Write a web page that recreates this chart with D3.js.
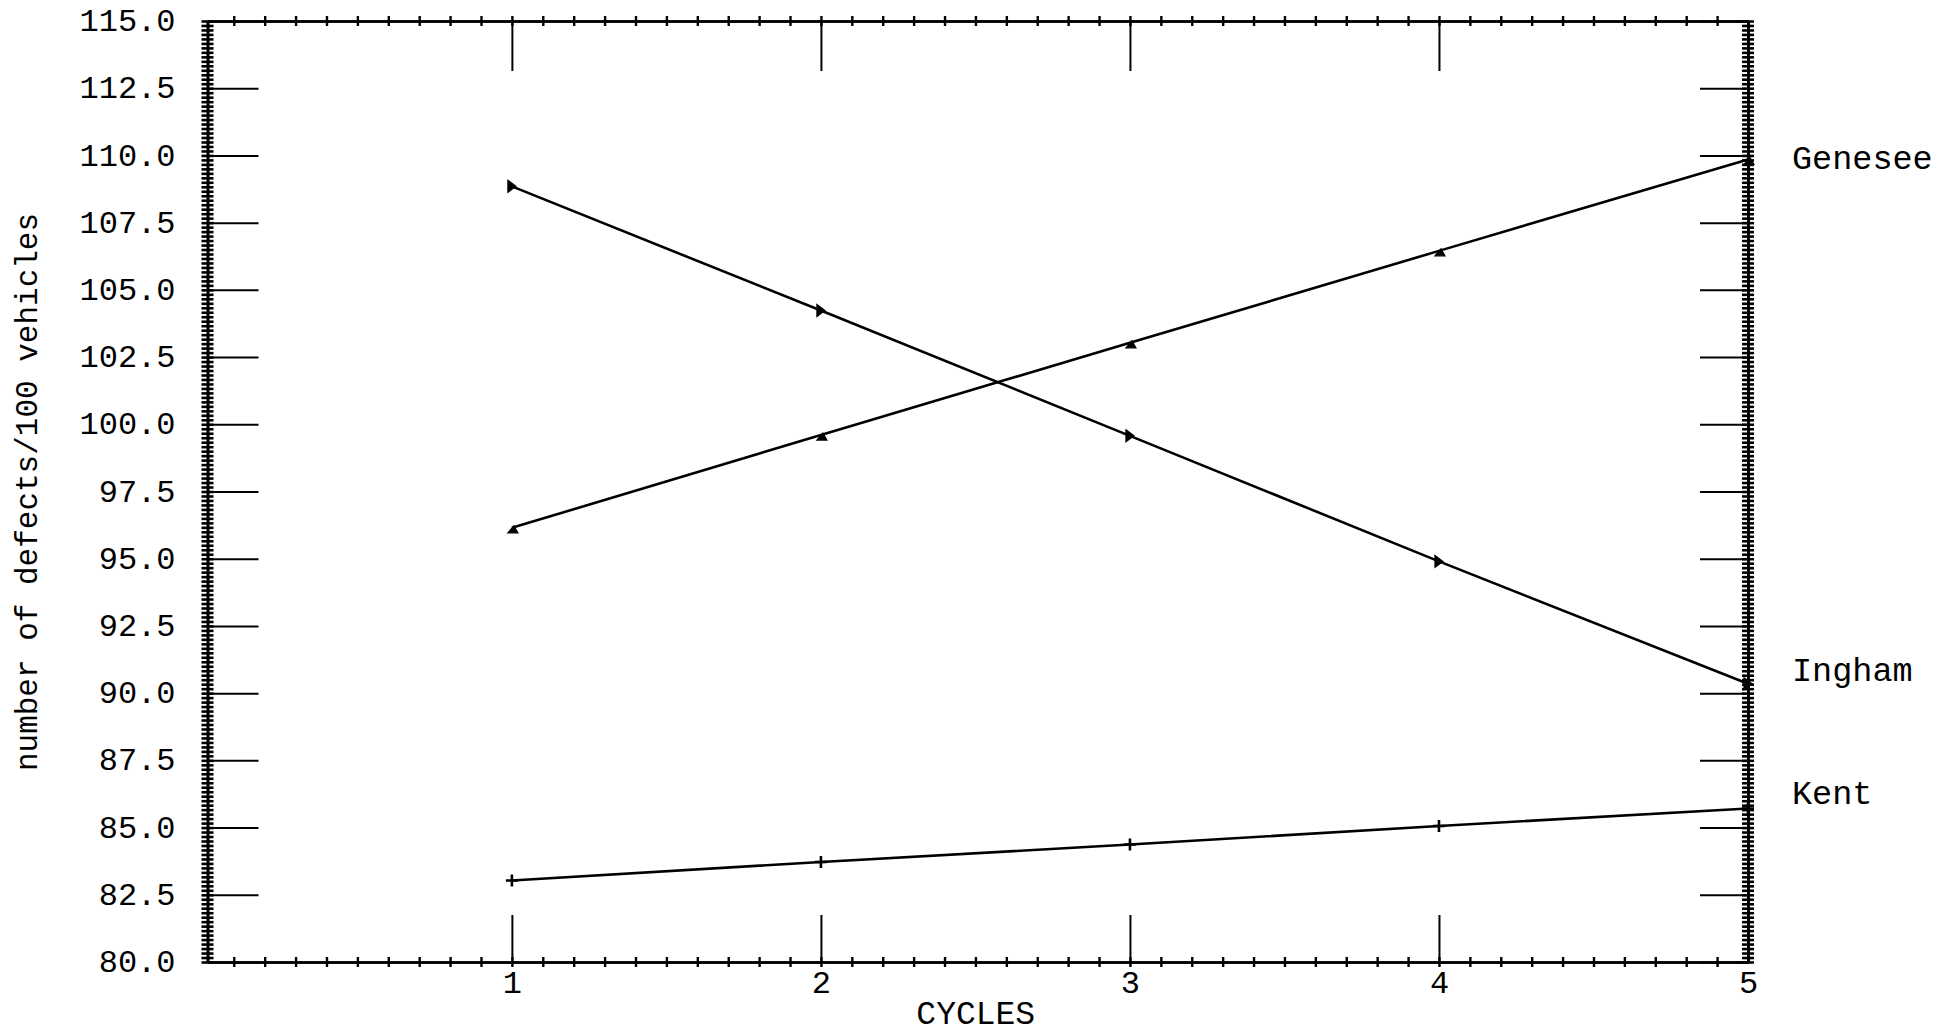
<!DOCTYPE html>
<html>
<head>
<meta charset="utf-8">
<script src="https://cdn.jsdelivr.net/npm/d3@7"></script>
<style>
  html, body { margin: 0; padding: 0; background: #fff; }
  svg text { font-family: "Liberation Mono", "DejaVu Sans Mono", monospace; fill: #000; }
</style>
</head>
<body>
<svg id="chart" width="1948" height="1034"></svg>
<script>
// ---- data ----
const cycles = [1, 2, 3, 4, 5];
const seriesNames = ["Genesee", "Ingham", "Kent"];
const genesee = [96.15, 99.6, 103.03, 106.45, 109.85];
const ingham  = [108.85, 104.23, 99.57, 94.9, 90.35];
const kent    = [83.03, 83.72, 84.37, 85.06, 85.71];
const yTicks = [80, 82.5, 85, 87.5, 90, 92.5, 95, 97.5, 100, 102.5, 105, 107.5, 110, 112.5, 115];
const xTicks = [1, 2, 3, 4, 5];
const xTitle = "CYCLES";
const yTitle = "number of defects/100 vehicles";

// ---- layout ----
const svg = d3.select("#chart");
const L = 207.5, R = 1748, T = 21, B = 962;
const x = d3.scaleLinear().domain([0.015, 5]).range([L, R]);
const y = d3.scaleLinear().domain([80, 115]).range([B, T]);
const FS = 32;
const axisW = 2.6;

function styleAxis(g) {
  g.select(".domain").attr("stroke", "#000").attr("stroke-width", axisW);
  g.selectAll(".tick line").attr("stroke", "#000").attr("stroke-width", 2);
  g.selectAll(".tick text").attr("font-size", FS).attr("fill", "#000")
    .attr("font-family", '"Liberation Mono", monospace');
}

// minor ticks
const xMinor = d3.range(1, 50).map(i => i / 10);
const yMinor = d3.range(0, 35 * 6 + 1).map(i => 80 + i / 6);

const gTopMinor = svg.append("g").attr("transform", `translate(0,${T})`)
  .call(d3.axisTop(x).tickValues(xMinor).tickSize(5).tickSizeOuter(0).tickFormat(""));
gTopMinor.selectAll(".tick line").attr("y1", 5);
const gBotMinor = svg.append("g").attr("transform", `translate(0,${B})`)
  .call(d3.axisBottom(x).tickValues(xMinor).tickSize(5).tickSizeOuter(0).tickFormat(""));
gBotMinor.selectAll(".tick line").attr("y1", -5);
const gLeftMinor = svg.append("g").attr("transform", `translate(${L},0)`)
  .call(d3.axisLeft(y).tickValues(yMinor).tickSize(6).tickSizeOuter(0).tickFormat(""));
gLeftMinor.selectAll(".tick line").attr("x1", 6);
const gRightMinor = svg.append("g").attr("transform", `translate(${R},0)`)
  .call(d3.axisRight(y).tickValues(yMinor).tickSize(6).tickSizeOuter(0).tickFormat(""));
gRightMinor.selectAll(".tick line").attr("x1", -6);
[gTopMinor, gBotMinor].forEach(g => {
  styleAxis(g);
  g.selectAll(".tick line").attr("stroke-width", 2.4);
});
[gLeftMinor, gRightMinor].forEach(g => {
  styleAxis(g);
  g.selectAll(".tick line").attr("stroke-width", 2.6);
});

// major ticks
const gTop = svg.append("g").attr("transform", `translate(0,${T})`)
  .call(d3.axisTop(x).tickValues(xTicks).tickSize(-50).tickSizeOuter(0).tickFormat(""));
const gBot = svg.append("g").attr("transform", `translate(0,${B})`)
  .call(d3.axisBottom(x).tickValues(xTicks).tickSize(-47).tickSizeOuter(0).tickPadding(9).tickFormat(d3.format("d")));
const gLeft = svg.append("g").attr("transform", `translate(${L},0)`)
  .call(d3.axisLeft(y).tickValues(yTicks).tickSize(-51).tickSizeOuter(0).tickPadding(32).tickFormat(d3.format(".1f")));
const gRight = svg.append("g").attr("transform", `translate(${R},0)`)
  .call(d3.axisRight(y).tickValues(yTicks).tickSize(-48).tickSizeOuter(0).tickFormat(""));
[gTop, gBot, gLeft, gRight].forEach(styleAxis);
gBot.selectAll(".tick text").attr("dy", "0.68em");
gLeft.selectAll(".tick text").attr("dy", "0.3em");

// ---- series ----
const allSeries = [
  { name: seriesNames[0], values: genesee, marker: "tri" },
  { name: seriesNames[1], values: ingham, marker: "rtri" },
  { name: seriesNames[2], values: kent, marker: "plus" }
];
const line = d3.line().x((d, i) => x(cycles[i])).y(d => y(d));

allSeries.forEach(s => {
  svg.append("path").datum(s.values)
    .attr("d", line).attr("fill", "none").attr("stroke", "#000")
    .attr("stroke-width", 2.6).attr("stroke-linejoin", "round");
  const g = svg.append("g");
  s.values.forEach((v, i) => {
    const px = x(cycles[i]), py = y(v);
    if (s.marker === "rtri") {
      g.append("path").attr("transform", `translate(${px},${py})`)
        .attr("d", "M-4,-6 L4,0 L-4,6 Z").attr("fill", "#000").attr("stroke", "#000").attr("stroke-width", 1.2);
    } else if (s.marker === "tri") {
      g.append("path").attr("transform", `translate(${px + 1},${py + 1})`)
        .attr("d", "M-5,4 L1,-3 L5,4 Z").attr("fill", "#000").attr("stroke", "#000").attr("stroke-width", 1.2);
    } else {
      g.append("path").attr("transform", `translate(${px},${py})`)
        .attr("d", "M-6,0 L6,0 M0,-6 L0,6").attr("fill", "none").attr("stroke", "#000").attr("stroke-width", 2.6);
    }
  });
});

// series labels at right
const labelNudge = { Genesee: -1, Ingham: -13, Kent: -15 };
allSeries.forEach(s => {
  svg.append("text")
    .attr("x", R + 44)
    .attr("y", y(s.values[s.values.length - 1]) + labelNudge[s.name])
    .attr("dy", "0.32em")
    .attr("font-size", 33.5)
    .text(s.name);
});

// ---- titles ----
svg.append("text").attr("x", (L + R) / 2 - 2).attr("y", 1024)
  .attr("text-anchor", "middle").attr("font-size", 33).text(xTitle);
svg.append("text").attr("transform", "translate(27,492) rotate(-90)")
  .attr("text-anchor", "middle").attr("dy", "0.32em").attr("font-size", 31).text(yTitle);
</script>
</body>
</html>
